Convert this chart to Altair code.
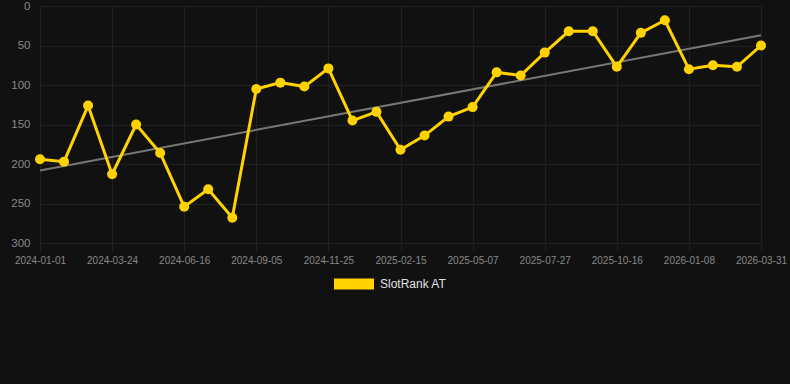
import altair as alt
import pandas as pd

dates = [
    "2024-01-01", "2024-01-28", "2024-02-25", "2024-03-24", "2024-04-21",
    "2024-05-19", "2024-06-16", "2024-07-13", "2024-08-09", "2024-09-05",
    "2024-10-02", "2024-10-29", "2024-11-25", "2024-12-22", "2025-01-18",
    "2025-02-15", "2025-03-14", "2025-04-10", "2025-05-07", "2025-06-03",
    "2025-06-30", "2025-07-27", "2025-08-23", "2025-09-19", "2025-10-16",
    "2025-11-12", "2025-12-10", "2026-01-08", "2026-02-04", "2026-03-03",
    "2026-03-31",
]
ranks = [
    194, 197, 126, 213, 150, 186, 254, 232, 268, 105,
    97, 102, 79, 145, 134, 182, 164, 140, 128, 84,
    88, 59, 32, 32, 77, 34, 18, 80, 75, 77,
    50,
]
series_name = "SlotRank AT"
y_ticks = [0, 50, 100, 150, 200, 250, 300]

df = pd.DataFrame({
    "idx": list(range(len(dates))),
    "date": dates,
    "rank": ranks,
    "series": [series_name] * len(dates),
})

GOLD = "#FFD200"
GRID = "#202020"
LABEL = "#888888"

date_array = "[" + ",".join("'" + d + "'" for d in dates) + "]"

x_enc = alt.X(
    "idx:Q",
    scale=alt.Scale(domain=[0, len(dates) - 1], nice=False, zero=False),
    axis=alt.Axis(
        values=list(range(0, len(dates), 3)),
        labelExpr=date_array + "[datum.value]",
        title=None,
        grid=True,
        gridColor=GRID,
        domain=False,
        ticks=True,
        tickColor=GRID,
        tickSize=8,
        labelPadding=4,
        labelColor=LABEL,
        labelFontSize=10,
        labelFont="Liberation Sans",
        labelOverlap=False,
        labelFlush=False,
        labelBound=False,
    ),
)
y_enc = alt.Y(
    "rank:Q",
    scale=alt.Scale(domain=[0, 300], reverse=True, nice=False, zero=False),
    axis=alt.Axis(
        values=y_ticks,
        title=None,
        grid=True,
        gridColor=GRID,
        domain=False,
        ticks=False,
        labelPadding=10,
        labelColor=LABEL,
        labelFontSize=11.5,
        labelFont="Liberation Sans",
        labelOverlap=False,
        labelFlush=False,
    ),
)

base = alt.Chart(df)

trend = base.transform_regression("idx", "rank", method="linear").mark_line(
    color="#777777", strokeWidth=2
).encode(x=x_enc, y=y_enc)

line = base.mark_line(color=GOLD, strokeWidth=3).encode(x=x_enc, y=y_enc)

points = base.mark_point(filled=True, opacity=1, size=100).encode(
    x=x_enc,
    y=y_enc,
    color=alt.Color(
        "series:N",
        scale=alt.Scale(domain=[series_name], range=[GOLD]),
        legend=alt.Legend(
            title=None,
            orient="none",
            legendX=294,
            legendY=258,
            symbolType="M-1,-0.275H1V0.275H-1Z",
            symbolSize=1600,
            symbolStrokeWidth=0,
            symbolOpacity=1,
            labelColor="#e0e0e0",
            labelFontSize=12,
            labelFont="Liberation Sans",
            labelOffset=6,
        ),
    ),
)

chart = (
    alt.layer(trend, line, points)
    .properties(
        width=721,
        height=237,
        autosize=alt.AutoSizeParams(type="none"),
        padding={"left": 40, "top": 6, "right": 29, "bottom": 141},
        background="#111111",
    )
    .configure_view(stroke=None)
)

chart.save("out.html", embed_options={"renderer": "svg", "actions": False})
